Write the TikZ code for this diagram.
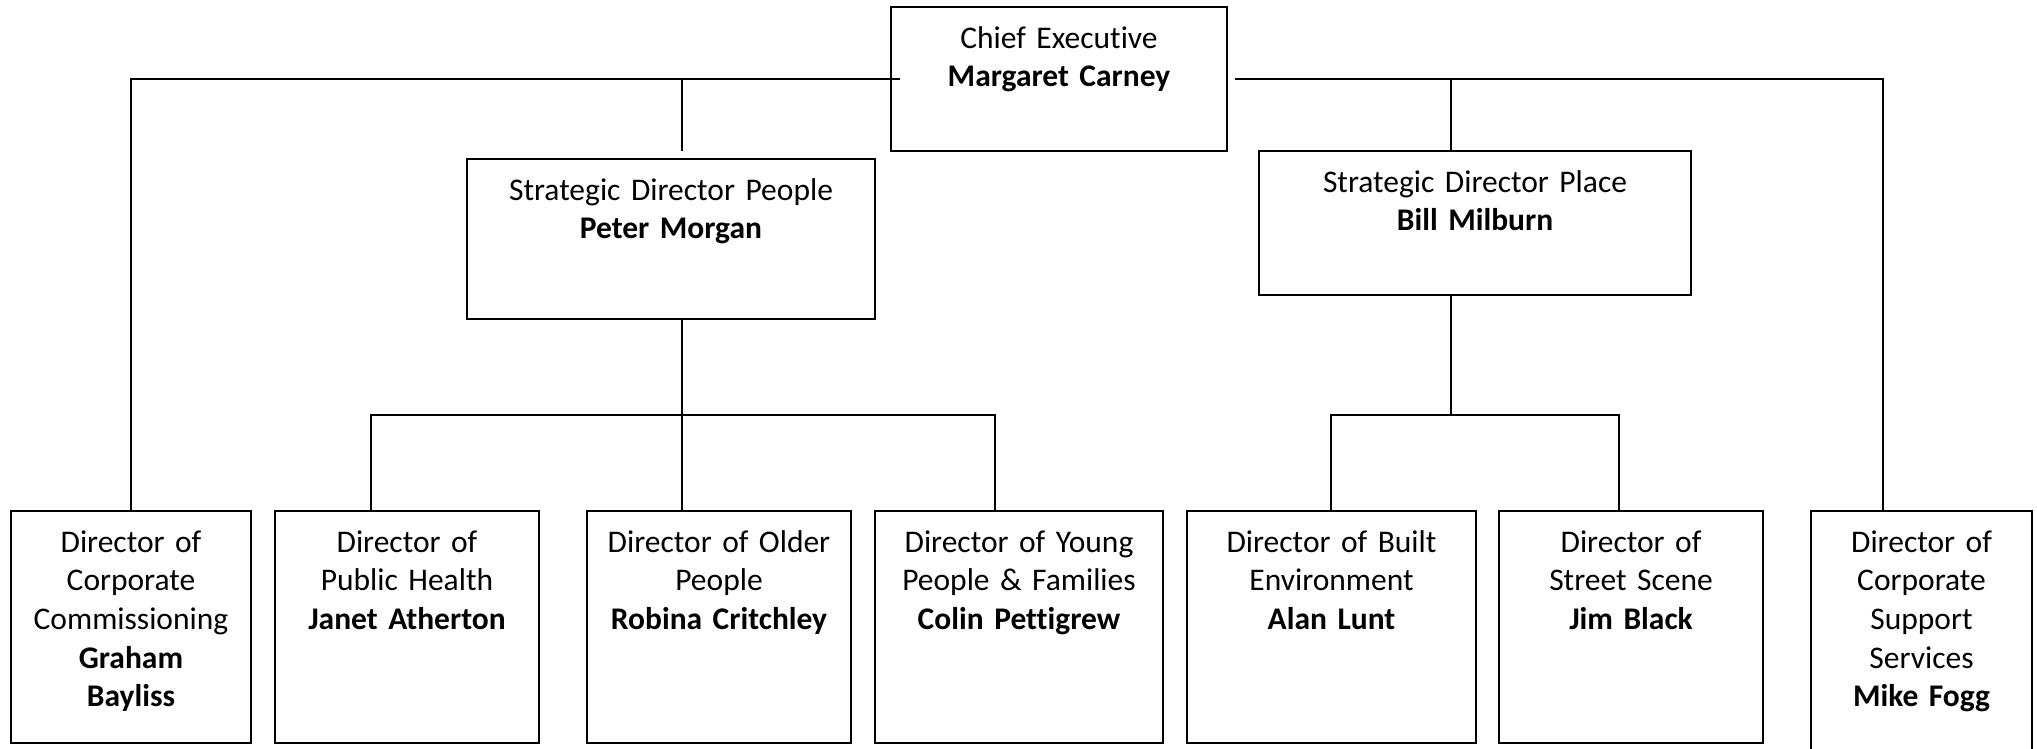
\documentclass[tikz,border=0pt]{standalone}
\usepackage{fontspec}
\setmainfont{Carlito}[Ligatures=NoCommon]

\begin{document}
\begin{tikzpicture}[x=1pt,y=-1pt,
  role/.style={draw, line width=1.8pt, anchor=north, align=center, outer sep=0pt,
    inner xsep=4pt, inner ysep=0pt, text height=41pt,
    font=\fontsize{31.5}{38.7}\selectfont},
  link/.style={draw, line width=1.6pt}]
\useasboundingbox (0,0) rectangle (2037,748);

% top of the chart
\node[role, text width=328pt, text depth=103pt] (ceo) at (1059,7) {Chief Executive\\\textbf{Margaret Carney}};
\node[role, text width=400pt, text depth=119pt] (sdp) at (671,159) {Strategic Director People\\\textbf{Peter Morgan}};
\node[role, text width=424pt, text depth=103pt] (sdpl) at (1475,151) {Strategic Director Place\\\textbf{Bill Milburn}};

% directors
\node[role, text width=232pt, text depth=191pt] (dcc) at (131,511) {Director of\\Corporate\\Commissioning\\\textbf{Graham}\\\textbf{Bayliss}};
\node[role, text width=256pt, text depth=191pt] (dph) at (407,511) {Director of\\Public Health\\\textbf{Janet Atherton}};
\node[role, text width=256pt, text depth=191pt] (dop) at (719,511) {Director of Older\\People\\\textbf{Robina Critchley}};
\node[role, text width=280pt, text depth=191pt] (dyp) at (1019,511) {Director of Young\\People \& Families\\\textbf{Colin Pettigrew}};
\node[role, text width=281pt, text depth=191pt] (dbe) at (1331.5,511) {Director of Built\\Environment\\\textbf{Alan Lunt}};
\node[role, text width=256pt, text depth=191pt] (dss) at (1631,511) {Director of\\Street Scene\\\textbf{Jim Black}};
\node[role, text width=213pt, text depth=210pt] (dcs) at (1921.5,511) {Director of\\Corporate\\Support\\Services\\\textbf{Mike Fogg}};

% lines from the chief executive
\path[link] ([xshift=9pt]ceo.west) -| (dcc.north);
\path[link] ([xshift=8pt]ceo.east) -| ([xshift=-38.5pt]dcs.north);
\path[link] ([xshift=11pt,yshift=8pt]sdp.north) -- ([xshift=11pt]sdp.north |- ceo.west);
\path[link] ([xshift=-24pt]sdpl.north) -- ([xshift=-24pt]sdpl.north |- ceo.east);

% people
\path[link] ([xshift=11pt]sdp.south) -- ([xshift=-37pt]dop.north);
\path[link] ([xshift=-36pt]dph.north) -- ++(0,-96) -| ([xshift=-24pt]dyp.north);

% place
\path[link] ([xshift=-24pt]sdpl.south) -- ++(0,120);
\path[link] ([xshift=-0.5pt]dbe.north) -- ++(0,-96) -| ([xshift=-12pt]dss.north);
\end{tikzpicture}
\end{document}
